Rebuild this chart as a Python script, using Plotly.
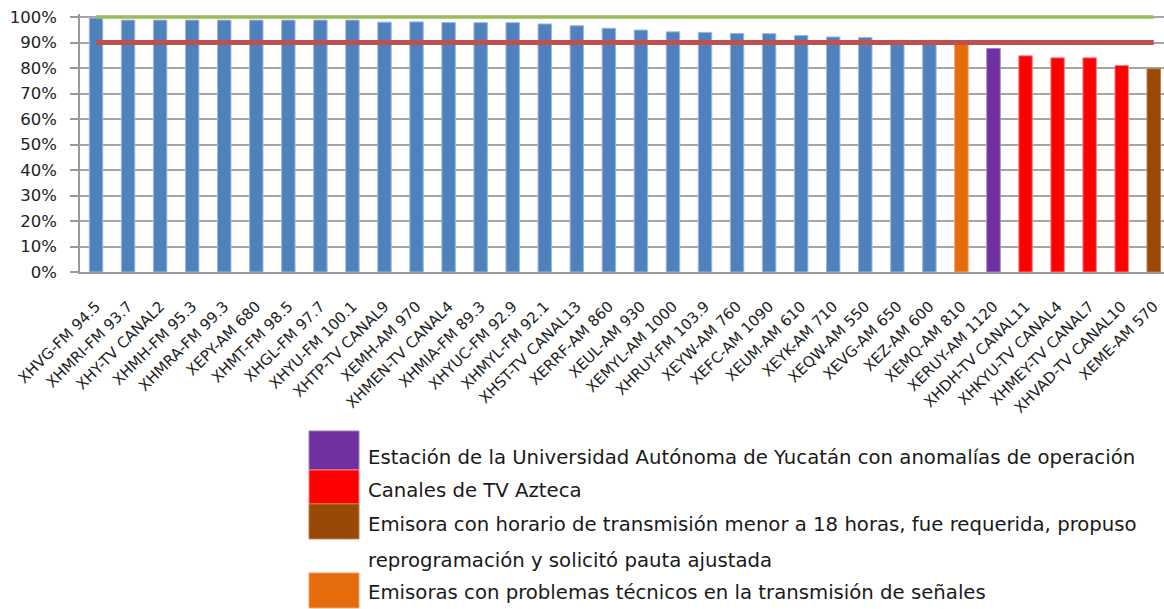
import plotly.graph_objects as go

# Stations and their compliance share (fraction of scheduled transmission)
stations = [
    "XHVG-FM 94.5", "XHMRI-FM 93.7", "XHY-TV CANAL2", "XHMH-FM 95.3", "XHMRA-FM 99.3",
    "XEPY-AM 680", "XHMT-FM 98.5", "XHGL-FM 97.7", "XHYU-FM 100.1", "XHTP-TV CANAL9",
    "XEMH-AM 970", "XHMEN-TV CANAL4", "XHMIA-FM 89.3", "XHYUC-FM 92.9", "XHMYL-FM 92.1",
    "XHST-TV CANAL13", "XERRF-AM 860", "XEUL-AM 930", "XEMYL-AM 1000", "XHRUY-FM 103.9",
    "XEYW-AM 760", "XEFC-AM 1090", "XEUM-AM 610", "XEYK-AM 710", "XEQW-AM 550",
    "XEVG-AM 650", "XEZ-AM 600", "XEMQ-AM 810", "XERUY-AM 1120", "XHDH-TV CANAL11",
    "XHKYU-TV CANAL4", "XHMEY-TV CANAL7", "XHVAD-TV CANAL10", "XEME-AM 570",
]
compliance = [
    0.996, 0.988, 0.988, 0.988, 0.988,
    0.988, 0.988, 0.988, 0.988, 0.980,
    0.981, 0.979, 0.978, 0.978, 0.973,
    0.966, 0.956, 0.949, 0.942, 0.940,
    0.936, 0.935, 0.928, 0.922, 0.920,
    0.908, 0.905, 0.902, 0.877, 0.848,
    0.840, 0.840, 0.810, 0.797,
]
# Station group for each bar
groups = ["ok"] * 27 + ["tecnicos", "uady", "azteca", "azteca", "azteca", "azteca", "horario"]

target_line = 1.00
minimum_line = 0.90

y_ticks = [i / 10 for i in range(11)]
y_tick_labels = [f"{i * 10}%" for i in range(11)]

group_colors = {
    "ok": "#4F81BD",
    "tecnicos": "#E46C0A",
    "uady": "#7030A0",
    "azteca": "#FF0000",
    "horario": "#984807",
}
group_borders = {
    "ok": "#9DB9E0",
    "tecnicos": "#F0A070",
    "uady": "#A080C0",
    "azteca": "#FF8080",
    "horario": "#C08040",
}

legend_items = [
    ("uady", "Estación de la Universidad Autónoma de Yucatán con anomalías de operación"),
    ("azteca", "Canales de TV Azteca"),
    ("horario", "Emisora con horario de transmisión menor a 18 horas, fue requerida, propuso"),
    (None, "reprogramación y solicitó pauta ajustada"),
    ("tecnicos", "Emisoras con problemas técnicos en la transmisión de señales"),
]

FONT = "DejaVu Sans"
W, H = 1164, 609
Y_MAX = 1.012                     # a little headroom so the 100% line is not clipped
ZERO_Y, FULL_Y = 272, 17          # pixel rows of 0% and 100%
PX_PER_UNIT = ZERO_Y - FULL_Y
M_L, M_R = 80, 0
M_B = H - ZERO_Y
M_T = FULL_Y - (Y_MAX - 1) * PX_PER_UNIT
PW, PH = W - M_L - M_R, PX_PER_UNIT * Y_MAX


def px(x):
    return (x - M_L) / PW


def py(y):
    return (ZERO_Y - y) / PH


fig = go.Figure()

fig.add_trace(go.Bar(
    x=stations,
    y=compliance,
    marker=dict(
        color=[group_colors[g] for g in groups],
        line=dict(color=[group_borders[g] for g in groups], width=1),
    ),
    width=0.42,
    showlegend=False,
    hoverinfo="x+y",
))

fig.add_trace(go.Scatter(
    x=stations, y=[target_line] * len(stations), mode="lines",
    line=dict(color="#9BBB59", width=3.5), showlegend=False,
))
fig.add_trace(go.Scatter(
    x=stations, y=[minimum_line] * len(stations), mode="lines",
    line=dict(color="#C0504D", width=5), showlegend=False,
))

# Custom legend: tall colour swatches with text beside them
shapes = []
annotations = []
swatch_rows = {"uady": (431, 470), "azteca": (470, 504), "horario": (504, 539), "tecnicos": (573, 608)}
text_rows = [458, 491, 525, 561, 593]
for (g, label), ty in zip(legend_items, text_rows):
    if g is not None:
        y0, y1 = swatch_rows[g]
        shapes.append(dict(
            type="rect", xref="paper", yref="paper",
            x0=px(309), x1=px(359), y0=py(y1), y1=py(y0),
            fillcolor=group_colors[g], line=dict(color=group_borders[g], width=1),
        ))
    annotations.append(dict(
        xref="paper", yref="paper", x=px(366), y=py(ty),
        xanchor="left", yanchor="middle", showarrow=False,
        text=label, font=dict(family=FONT, size=19.7, color="#1a1a1a"),
    ))

fig.update_layout(
    width=W, height=H,
    margin=dict(l=M_L, r=M_R, t=M_T, b=M_B),
    paper_bgcolor="white", plot_bgcolor="white",
    shapes=shapes,
    annotations=annotations,
    xaxis=dict(
        type="category",
        range=[-0.5, 33.32],
        tickangle=-45,
        tickfont=dict(family=FONT, size=15, color="#222222"),
        showline=True, linecolor="#999999", linewidth=1.5,
        showgrid=False, ticks="", ticklabelstandoff=18,
    ),
    yaxis=dict(
        range=[0, Y_MAX],
        tickvals=y_ticks, ticktext=y_tick_labels,
        tickfont=dict(family=FONT, size=16.5, color="#222222"),
        showgrid=True, gridcolor="#a6a6a6", gridwidth=1.5,
        showline=True, linecolor="#999999", linewidth=1.5,
        ticks="outside", ticklen=8, tickcolor="#999999", tickwidth=1.5,
        ticklabelstandoff=10,
        zeroline=False,
    ),
)

fig.write_html("out.html")
